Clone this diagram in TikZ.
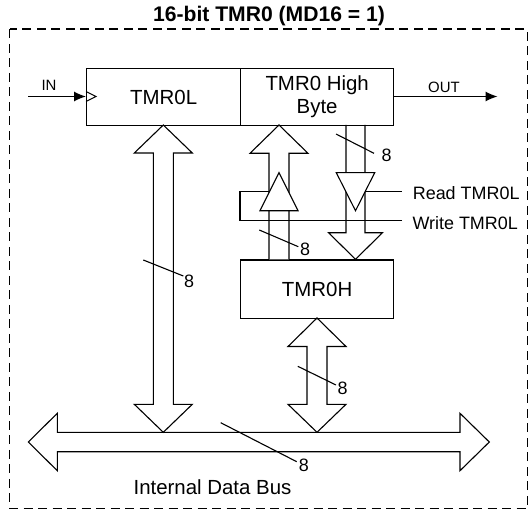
\documentclass[tikz,border=0pt]{standalone}
\usepackage{fontspec}
\setmainfont{Liberation Sans}
\usetikzlibrary{arrows.meta}
\begin{document}
\begin{tikzpicture}[x=1bp,y=-1bp, line width=1.1bp, line join=miter,
  box/.style={draw, line width=1.3bp, inner sep=0pt, anchor=north west},
  lbl/.style={font=\fontsize{20.5}{24}\selectfont, align=center},
  sm/.style={font=\fontsize{18}{21}\selectfont, inner sep=0pt},
  tinylbl/.style={font=\fontsize{15}{17}\selectfont, inner sep=0pt},
  hollow/.style={draw, line width=1.1bp, fill=white},
  sig/.style={draw, line width=1.1bp}]
\useasboundingbox (0,0) rectangle (530,510);
% frame
\draw[dash pattern=on 9bp off 5.5bp, line width=1.6bp] (9.5,29.3) rectangle (527.3,508.3);
\node[font=\bfseries\fontsize{21.2}{24}\selectfont, inner sep=0pt] (title) at (269,16.5) {16-bit TMR0 (MD16 = 1)};
% registers
\node[box, lbl, minimum width=154bp, minimum height=57bp] (tl) at (86,68) {TMR0L};
\node[box, lbl, minimum width=153bp, minimum height=57bp] (hb) at (240,68) {TMR0 High\\[-1bp]Byte};
\node[box, lbl, minimum width=153bp, minimum height=58.7bp] (th) at (240,259.3) {TMR0H};
% IN / OUT
\coordinate (inS) at (28,96.5);
\coordinate (outE) at (497.5,96.5);
\draw[sig, -{Latex[length=12bp,width=10bp]}] (inS) -- (inS -| tl.west);
\draw[sig] (86,91.5) -- (96,96.5) -- (86,101.5);
\draw[sig, -{Latex[length=12bp,width=10bp]}] (hb.east |- outE) -- (outE);
\node[tinylbl] (inl) at (49,85) {IN};
\node[tinylbl] (outl) at (444,87) {OUT};
% internal data bus
\draw[hollow] (28.3,442) -- (57.3,413.3) -- (57.3,432.3) -- (460,432.3) -- (460,413.3)
  -- (489.3,442) -- (460,470.7) -- (460,451.7) -- (57.3,451.7) -- (57.3,470.7) -- cycle;
% TMR0L <-> bus
\draw[hollow] (163.3,125) -- (192.3,153) -- (173.3,153) -- (173.3,404.3) -- (192.3,404.3)
  -- (163.3,432.3) -- (134.3,404.3) -- (153.3,404.3) -- (153.3,153) -- (134.3,153) -- cycle;
% TMR0H <-> bus
\draw[hollow] (317,318) -- (346,346.5) -- (327,346.5) -- (327,404.3) -- (346,404.3)
  -- (317,432.3) -- (288,404.3) -- (307,404.3) -- (307,346.5) -- (288,346.5) -- cycle;
% TMR0H -> high byte (write path)
\draw[hollow] (269,259.3) -- (269,153.3) -- (250,153.3) -- (279,125) -- (308,153.3)
  -- (289,153.3) -- (289,259.3);
\draw[hollow] (260,210.7) -- (298,210.7) -- (279,172.7) -- cycle;
% high byte -> TMR0H (read path)
\draw[sig] (346,125) -- (346,232.7) -- (328.5,232.7) -- (355.5,259.3) -- (382.5,232.7)
  -- (365,232.7) -- (365,125);
\draw[hollow] (336.3,172.7) -- (374.7,172.7) -- (355.5,210.7) -- cycle;
% enables
\draw[sig] (365.1,191.7) -- (402,191.7);
\draw[sig] (402,220.7) -- (240,220.7) -- (240,191.7) -- (269.5,191.7);
\node[sm, anchor=west] (rd) at (412.3,193) {Read TMR0L};
\node[sm, anchor=west] (wr) at (412,223) {Write TMR0L};
% bus width marks
\draw[sig] (143.3,260) -- (183.3,276);
\node[sm] (w1) at (189,281) {8};
\draw[sig] (336,134) -- (374,153.3);
\node[sm] (w2) at (386.7,155) {8};
\draw[sig] (259.3,230) -- (298.3,246.7);
\node[sm] (w3) at (305,249) {8};
\draw[sig] (297.8,366.3) -- (336,385);
\node[sm] (w4) at (342.5,388) {8};
\draw[sig] (220.7,422.7) -- (296.7,461.7);
\node[sm] (w5) at (303.8,465.5) {8};
\node[font=\fontsize{20.5}{24}\selectfont, inner sep=0pt] (idb) at (212.5,487) {Internal Data Bus};
\end{tikzpicture}
\end{document}
